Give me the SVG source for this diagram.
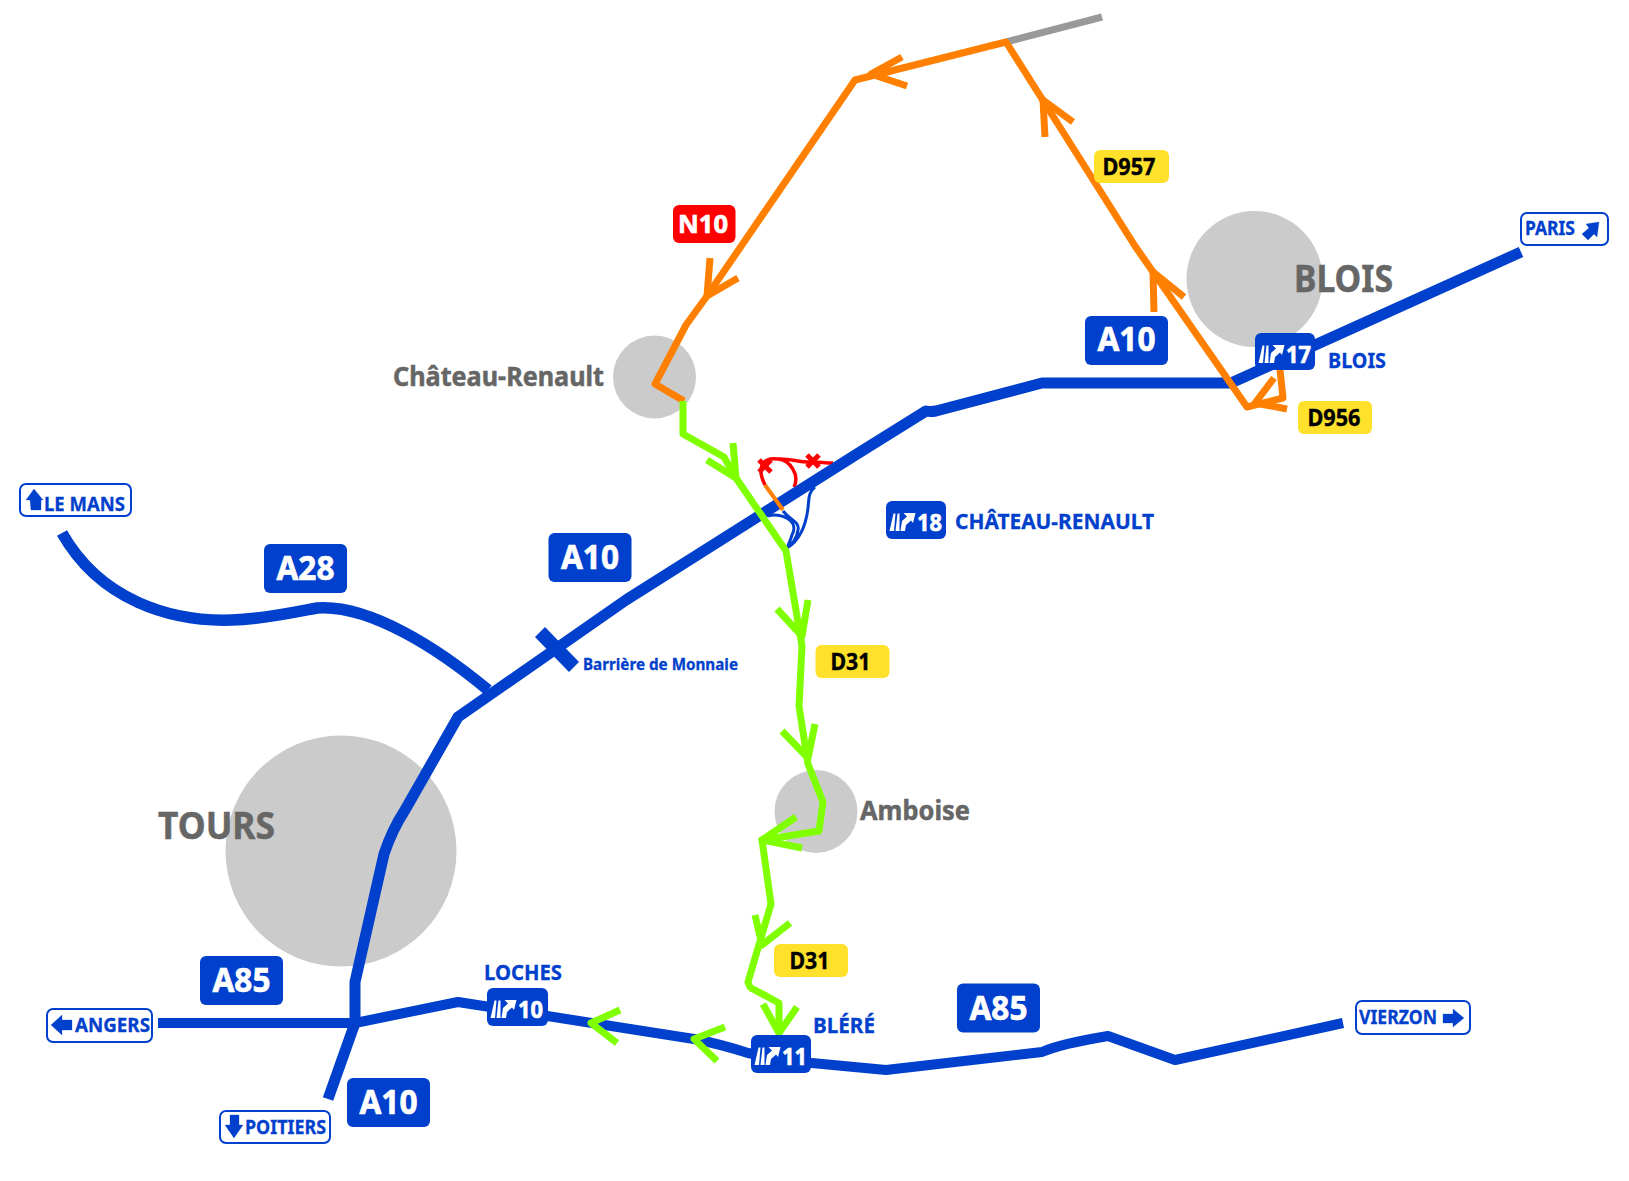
<svg xmlns="http://www.w3.org/2000/svg" width="1629" height="1181" viewBox="0 0 1629 1181">
<style>
text{font-family:"Noto Sans","Open Sans","Liberation Sans",sans-serif;font-weight:700}
.city{fill:#cbcbcb}
.gt{fill:#666;stroke:#666;stroke-width:.5}
.bt{fill:#0040cc;stroke:#0040cc;stroke-width:.3}
.wt{fill:#fff;stroke:#fff;stroke-width:.7}
.kt{fill:#000;stroke:#000;stroke-width:.4}
.road{fill:none;stroke-linejoin:round}
.bl{stroke:#0040cc}
.or{stroke:#ff8000;stroke-width:7}
.gr{stroke:#80ff00;stroke-width:7}
.badge{fill:#0040cc}
.yel{fill:#ffe12b}
.sign{fill:#fff;stroke:#0040cc;stroke-width:2}
</style>
<defs>
<g id="exit" fill="#fff">
<polygon points="3.500,30 8,30 9.500,12.500 7.500,12.500"/>
<polygon points="9.500,30 13.500,30 13.500,12.500 11.500,12.500"/>
<polygon points="14.500,30 19,30 20,24 25,19.500 27,22 29.500,12 17.500,12 21,15.500 16,20"/>
</g>
</defs>
<rect width="1629" height="1181" fill="#fff"/>
<g id="cities">
<g id="tours"><circle class="city" cx="341" cy="851" r="115.500"/><text class="gt" x="158" y="839" font-size="38" textLength="117" lengthAdjust="spacingAndGlyphs">TOURS</text></g>
<g id="blois"><circle class="city" cx="1254.500" cy="279" r="68"/><text class="gt" x="1294" y="292" font-size="38" textLength="99" lengthAdjust="spacingAndGlyphs">BLOIS</text></g>
<g id="chateau-renault"><circle class="city" cx="654.500" cy="377" r="41.500"/><text class="gt" x="393" y="386" font-size="26" textLength="211" lengthAdjust="spacingAndGlyphs">Château-Renault</text></g>
<g id="amboise"><circle class="city" cx="816" cy="811.500" r="41.500"/><text class="gt" x="860" y="820" font-size="26" textLength="110" lengthAdjust="spacingAndGlyphs">Amboise</text></g>
</g>
<g id="connectors">
<path class="road" stroke="#999" stroke-width="7" d="M1006 42L1102 17"/>
<path class="road" stroke="#ff0000" stroke-width="3.500" d="M765 485C755 465 765 457 778 459C790 460 800 475 794 487M778 459C790 458 800 463 813 462C820 462 825 463 833 463"/>
<path class="road" stroke="#ff0000" stroke-width="5" d="M759 460L771 472M771 460L759 472M807 455L819 467M819 455L807 467"/>
<path class="road bl" stroke-width="11" d="M1521 252L1231 383H1042L936 411Q930 412 926 411L857 454L626 600L458 717L405 810Q392 830 384 854L355 982V1023L328 1099"/>
<path class="road bl" stroke-width="11.500" d="M62 533C100 600 170 622 232 620C265 619 295 612 317 608C370 604 440 650 488 690"/>
<path class="road bl" stroke-width="14" d="M540 632L574 667"/>
<path class="road bl" stroke-width="10" d="M158 1023H355L458 1002L694 1039Q720 1044 748 1053L780 1060L886 1070L1042 1052Q1060 1044 1108 1036L1175 1060L1343 1023"/>
<path class="road bl" stroke-width="3" d="M768 516C780 512 800 520 792 535C790 542 788 545 787 548M783 511C790 520 800 522 798 530C797 538 792 545 787 548M815 487C808 492 809 500 808 508C806 525 800 540 787 548"/>
<path class="road or" d="M684 401L655 384L686 325L707 296L855 80L1006 42L1135 246L1247 407L1283 398L1280 370"/>
<path class="road or" stroke-linecap="butt" d="M902 57L871 74L907 86M1045 137L1043 100L1073 122M1154 312L1153 272L1184 297M1274 378L1255 403L1287 409M710 258L707 296L738 278"/>
<path class="road" stroke="#ff8000" stroke-width="4" d="M765 485L783 510"/>
<path class="road gr" d="M683 401V434L724 457L736 478L786 551L802 646L799 706L808 764L823 802L819 831L762 840L771 904L748 982Q750 989 753 989L779 1003V1034"/>
<path class="road gr" d="M733 443L736 478L707 460M808 600L802 636L777 609M815 724L808 758L782 731M796 817L762 840L802 848M755 915L762 945L790 923M763 1004L779 1033L797 1007M620 1010L591 1023L617 1043M725 1027L694 1039L717 1061"/>
</g>
<g id="a10-top"><rect class="badge" x="1085" y="316" width="83" height="49" rx="6"/><text class="wt" x="1126.500" y="351" font-size="34" text-anchor="middle" textLength="58" lengthAdjust="spacingAndGlyphs">A10</text></g>
<g id="a28"><rect class="badge" x="264" y="544" width="83" height="49" rx="6"/><text class="wt" x="305.500" y="580" font-size="34" text-anchor="middle" textLength="58" lengthAdjust="spacingAndGlyphs">A28</text></g>
<g id="a10-mid"><rect class="badge" x="548.500" y="533" width="83" height="49" rx="6"/><text class="wt" x="590" y="569" font-size="34" text-anchor="middle" textLength="58" lengthAdjust="spacingAndGlyphs">A10</text></g>
<g id="a85-left"><rect class="badge" x="200" y="956" width="83" height="49" rx="6"/><text class="wt" x="241.500" y="992" font-size="34" text-anchor="middle" textLength="58" lengthAdjust="spacingAndGlyphs">A85</text></g>
<g id="a85-right"><rect class="badge" x="957" y="983.500" width="83" height="49" rx="6"/><text class="wt" x="998.500" y="1020" font-size="34" text-anchor="middle" textLength="58" lengthAdjust="spacingAndGlyphs">A85</text></g>
<g id="a10-bottom"><rect class="badge" x="347" y="1078" width="83" height="49" rx="6"/><text class="wt" x="388.500" y="1114" font-size="34" text-anchor="middle" textLength="58" lengthAdjust="spacingAndGlyphs">A10</text></g>
<g id="exit-17"><rect class="badge" x="1255" y="333" width="60" height="37" rx="6"/><use href="#exit" x="1255" y="333"/><text class="wt" x="1298.500" y="363" font-size="24" text-anchor="middle" textLength="25" lengthAdjust="spacingAndGlyphs">17</text><text class="bt" x="1328" y="368" font-size="22" textLength="58" lengthAdjust="spacingAndGlyphs">BLOIS</text></g>
<g id="exit-18"><rect class="badge" x="886" y="501" width="60" height="38" rx="6"/><use href="#exit" x="886" y="501"/><text class="wt" x="929.500" y="531" font-size="24" text-anchor="middle" textLength="25" lengthAdjust="spacingAndGlyphs">18</text><text class="bt" x="955" y="529" font-size="22" textLength="199" lengthAdjust="spacingAndGlyphs">CHÂTEAU-RENAULT</text></g>
<g id="exit-10"><rect class="badge" x="487" y="988" width="61" height="38" rx="6"/><use href="#exit" x="487" y="988"/><text class="wt" x="530.500" y="1018" font-size="24" text-anchor="middle" textLength="25" lengthAdjust="spacingAndGlyphs">10</text><text class="bt" x="484" y="980" font-size="22" textLength="78" lengthAdjust="spacingAndGlyphs">LOCHES</text></g>
<g id="exit-11"><rect class="badge" x="751" y="1035" width="60" height="38" rx="6"/><use href="#exit" x="751" y="1035"/><text class="wt" x="794.500" y="1065" font-size="24" text-anchor="middle" textLength="25" lengthAdjust="spacingAndGlyphs">11</text><text class="bt" x="813" y="1033" font-size="22" textLength="62" lengthAdjust="spacingAndGlyphs">BLÉRÉ</text></g>
<g id="n10"><rect x="673" y="205" width="62.500" height="38" rx="6" fill="#ff0000"/><text class="wt" x="703" y="233" font-size="25" text-anchor="middle" textLength="50" lengthAdjust="spacingAndGlyphs">N10</text></g>
<g id="d957"><rect class="yel" x="1094" y="150" width="75" height="33" rx="6"/><text class="kt" x="1129" y="175" font-size="23" text-anchor="middle" textLength="53" lengthAdjust="spacingAndGlyphs">D957</text></g>
<g id="d956"><rect class="yel" x="1298" y="401" width="74" height="33" rx="6"/><text class="kt" x="1334" y="426" font-size="23" text-anchor="middle" textLength="53" lengthAdjust="spacingAndGlyphs">D956</text></g>
<g id="d31-a"><rect class="yel" x="815.500" y="645" width="74" height="33" rx="6"/><text class="kt" x="850.500" y="670" font-size="23" text-anchor="middle" textLength="40" lengthAdjust="spacingAndGlyphs">D31</text></g>
<g id="d31-b"><rect class="yel" x="774" y="944" width="74" height="33" rx="6"/><text class="kt" x="809.500" y="969" font-size="23" text-anchor="middle" textLength="40" lengthAdjust="spacingAndGlyphs">D31</text></g>
<g id="toll"><text class="bt" x="583" y="670" font-size="16" textLength="155" lengthAdjust="spacingAndGlyphs">Barrière de Monnaie</text></g>
<g id="sign-paris"><rect class="sign" x="1521" y="213" width="87" height="32" rx="6"/><text class="bt" x="1525" y="235" font-size="20" textLength="50" lengthAdjust="spacingAndGlyphs">PARIS</text><polygon class="bt" points="1599,222 1586,224 1589,228 1582,234 1588,240 1594,234 1597,237"/></g>
<g id="sign-lemans"><rect class="sign" x="20" y="484" width="111" height="32" rx="6"/><text class="bt" x="44" y="511" font-size="20" textLength="81" lengthAdjust="spacingAndGlyphs">LE MANS</text><polygon class="bt" points="34,489 26,500 30,500 31,510 41,510 41,500 43,500"/></g>
<g id="sign-angers"><rect class="sign" x="47" y="1009" width="105" height="33" rx="6"/><text class="bt" x="75" y="1032" font-size="20" textLength="75" lengthAdjust="spacingAndGlyphs">ANGERS</text><polygon class="bt" points="51,1025 62,1015 62,1020 72,1020 72,1030 62,1030 62,1035"/></g>
<g id="sign-poitiers"><rect class="sign" x="220" y="1111" width="110" height="32" rx="6"/><text class="bt" x="245" y="1134" font-size="20" textLength="81" lengthAdjust="spacingAndGlyphs">POITIERS</text><polygon class="bt" points="234,1138 225,1125 230,1125 230,1115 239,1115 239,1125 243,1125"/></g>
<g id="sign-vierzon"><rect class="sign" x="1356" y="1001" width="114" height="33" rx="6"/><text class="bt" x="1359" y="1024" font-size="20" textLength="78" lengthAdjust="spacingAndGlyphs">VIERZON</text><polygon class="bt" points="1464,1018 1453,1009 1453,1014 1443,1014 1443,1023 1453,1023 1453,1027"/></g>
</svg>
